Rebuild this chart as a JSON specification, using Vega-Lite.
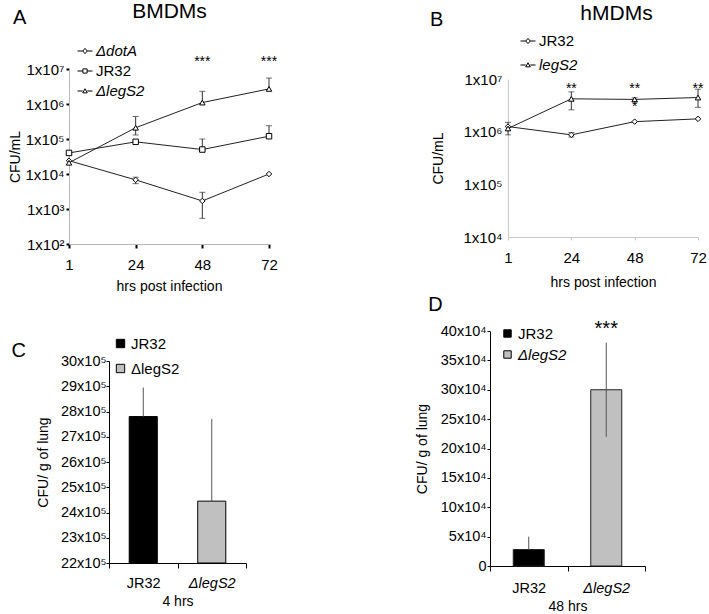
{
  "$schema": "https://vega.github.io/schema/vega-lite/v6.json",
  "padding": {"left": 8, "top": 0, "right": 0, "bottom": 0},
  "background": "white",
  "config": {
    "font": "Liberation Sans",
    "view": {"stroke": null},
    "axis": {"labelFontSize": 15, "titleFontSize": 14, "titleFontWeight": "normal", "labelColor": "black", "titleColor": "black", "grid": false, "labelFont": "Liberation Sans", "titleFont": "Liberation Sans", "labelOverlap": false},
    "legend": {"labelFontSize": 15, "labelColor": "black", "labelFont": "Liberation Sans", "padding": 0},
    "title": {"fontSize": 20, "fontWeight": "normal", "font": "Liberation Sans", "color": "black", "anchor": "start", "offset": 0}
  },
  "datasets": {
    "lineA": [
      {"time": 1, "strain": "ΔdotA", "cfu": 24000, "lo": 24000, "hi": 24000},
      {"time": 24, "strain": "ΔdotA", "cfu": 6800, "lo": 5300, "hi": 8100},
      {"time": 48, "strain": "ΔdotA", "cfu": 1700, "lo": 540, "hi": 3000},
      {"time": 72, "strain": "ΔdotA", "cfu": 10000, "lo": 10000, "hi": 10000},
      {"time": 1, "strain": "JR32", "cfu": 40000, "lo": 40000, "hi": 40000},
      {"time": 24, "strain": "JR32", "cfu": 83000, "lo": 83000, "hi": 83000},
      {"time": 48, "strain": "JR32", "cfu": 50000, "lo": 50000, "hi": 100000},
      {"time": 72, "strain": "JR32", "cfu": 120000, "lo": 120000, "hi": 240000},
      {"time": 1, "strain": "ΔlegS2", "cfu": 21000, "lo": 21000, "hi": 21000},
      {"time": 24, "strain": "ΔlegS2", "cfu": 210000, "lo": 130000, "hi": 440000},
      {"time": 48, "strain": "ΔlegS2", "cfu": 1100000, "lo": 1100000, "hi": 2300000},
      {"time": 72, "strain": "ΔlegS2", "cfu": 2700000, "lo": 2700000, "hi": 5500000}
    ],
    "sigA": [
      {"time": 48, "y": 16000000, "label": "***"},
      {"time": 72, "y": 16000000, "label": "***"}
    ],
    "lineB": [
      {"time": 1, "strain": "JR32", "cfu": 1250000, "lo": 1250000, "hi": 1250000},
      {"time": 24, "strain": "JR32", "cfu": 870000, "lo": 790000, "hi": 960000},
      {"time": 48, "strain": "JR32", "cfu": 1550000, "lo": 1550000, "hi": 1550000},
      {"time": 72, "strain": "JR32", "cfu": 1750000, "lo": 1750000, "hi": 1750000},
      {"time": 1, "strain": "legS2", "cfu": 1150000, "lo": 870000, "hi": 1500000},
      {"time": 24, "strain": "legS2", "cfu": 4200000, "lo": 2600000, "hi": 5700000},
      {"time": 48, "strain": "legS2", "cfu": 4100000, "lo": 3700000, "hi": 4400000},
      {"time": 72, "strain": "legS2", "cfu": 4450000, "lo": 2900000, "hi": 6400000}
    ],
    "sigB": [
      {"time": 24, "y": 6400000, "label": "**"},
      {"time": 48, "y": 6400000, "label": "**"},
      {"time": 72, "y": 6400000, "label": "**"},
      {"time": 48, "y": 2900000, "label": "*"}
    ],
    "barC": [
      {"strain": "JR32", "cfu": 2780000, "hi": 2895000},
      {"strain": "ΔlegS2", "cfu": 2445000, "hi": 2770000}
    ],
    "barD": [
      {"strain": "JR32", "cfu": 28000, "lo": 28000, "hi": 50000},
      {"strain": "ΔlegS2", "cfu": 300000, "lo": 220000, "hi": 380000}
    ],
    "sigD": [
      {"strain": "ΔlegS2", "y": 403000, "label": "***"}
    ]
  },
  "columns": 2,
  "align": "each",
  "spacing": {"row": 2, "column": 137},
  "resolve": {"scale": {"color": "independent", "shape": "independent"}, "legend": {"color": "independent", "shape": "independent"}},
  "concat": [
    {
      "title": {"text": "A", "dx": 5, "dy": 32},
      "width": 200,
      "height": 175,
      "resolve": {"scale": {"shape": "independent"}, "legend": {"shape": "independent"}},
      "layer": [
        {
          "data": {"name": "lineA"},
          "mark": {"type": "rule", "color": "#333", "strokeWidth": 1},
          "encoding": {
            "x": {"field": "time", "type": "ordinal", "sort": [1, 24, 48, 72], "scale": {"type": "point", "padding": 0},
              "axis": {"orient": "bottom", "title": "hrs post infection", "labelAngle": 0, "domainColor": "#b8b8b8", "tickColor": "black", "tickWidth": 2, "tickSize": 4, "labelPadding": 9, "titlePadding": 7}},
            "y": {"field": "lo", "type": "quantitative", "title": "CFU/mL", "scale": {"type": "log", "domain": [100, 10000000], "nice": false},
              "axis": {"values": [100, 1000, 10000, 100000, 1000000, 10000000], "labelExpr": "'1x10' + ['⁰','¹','²','³','⁴','⁵','⁶','⁷'][round(log(datum.value)/LN10)]", "labelOverlap": false, "domainColor": "#b8b8b8", "tickColor": "black", "tickWidth": 2, "tickSize": 3, "labelPadding": 2, "titlePadding": 3}},
            "y2": {"field": "hi"}
          }
        },
        {
          "data": {"name": "lineA"},
          "transform": [{"filter": "datum.hi > datum.cfu"}],
          "mark": {"type": "tick", "orient": "horizontal", "color": "#333", "size": 6, "thickness": 1},
          "encoding": {"x": {"field": "time", "type": "ordinal", "axis": null}, "y": {"field": "hi", "type": "quantitative", "title": "CFU/mL"}}
        },
        {
          "data": {"name": "lineA"},
          "transform": [{"filter": "datum.lo < datum.cfu"}],
          "mark": {"type": "tick", "orient": "horizontal", "color": "#333", "size": 6, "thickness": 1},
          "encoding": {"x": {"field": "time", "type": "ordinal", "axis": null}, "y": {"field": "lo", "type": "quantitative", "title": "CFU/mL"}}
        },
        {
          "data": {"name": "lineA"},
          "mark": {"type": "line", "color": "#222", "strokeWidth": 1},
          "encoding": {"x": {"field": "time", "type": "ordinal", "axis": null}, "y": {"field": "cfu", "type": "quantitative", "title": "CFU/mL"}, "detail": {"field": "strain"}}
        },
        {
          "data": {"name": "lineA"},
          "mark": {"type": "point", "filled": true, "fill": "white", "stroke": "black", "strokeWidth": 1, "size": 30, "opacity": 1},
          "encoding": {
            "x": {"field": "time", "type": "ordinal", "axis": null},
            "y": {"field": "cfu", "type": "quantitative", "title": "CFU/mL"},
            "shape": {"field": "strain", "type": "nominal", "scale": {"domain": ["ΔdotA", "JR32", "ΔlegS2"], "range": ["diamond", "square", "triangle-up"]}, "legend": null}
          }
        },
        {
          "data": {"name": "sigA"},
          "mark": {"type": "text", "fontSize": 14, "color": "black"},
          "encoding": {"x": {"field": "time", "type": "ordinal", "axis": null}, "y": {"field": "y", "type": "quantitative", "title": "CFU/mL"}, "text": {"field": "label"}}
        },
        {
          "data": {"name": "lineA"},
          "transform": [{"filter": "datum.time < 0"}],
          "mark": {"type": "point", "filled": false, "color": "black", "strokeWidth": 1, "opacity": 1},
          "encoding": {
            "x": {"field": "time", "type": "ordinal", "axis": {"orient": "top", "title": "BMDMs", "titleFontSize": 21, "labels": false, "ticks": false, "domain": false, "titlePadding": 48}},
            "shape": {"field": "strain", "type": "nominal", "scale": {"domain": ["ΔdotA", "JR32", "ΔlegS2"], "range": ["M-1,0H-0.3M0.3,0H1M-0.3,0L0,-0.35L0.3,0L0,0.35Z", "M-1,0H-0.28M0.28,0H1M-0.28,-0.28H0.28V0.28H-0.28Z", "M-1,0H-0.3M0.3,0H1M-0.3,0.25L0,-0.3L0.3,0.25Z"]},
              "legend": {"title": null, "orient": "none", "legendX": 8, "legendY": -26, "symbolSize": 225, "symbolStrokeColor": "black", "symbolStrokeWidth": 1, "symbolOpacity": 1, "rowPadding": 4, "labelOffset": 3,
                "labelFontStyle": {"expr": "datum.value == 'JR32' ? 'normal' : 'italic'"},
                "encode": {"symbols": {"update": {"stroke": {"value": "black"}, "strokeWidth": {"value": 1}, "opacity": {"value": 1}}}}}}
          }
        }
      ]
    },
    {
      "title": {"text": "B", "dx": -1, "dy": 32},
      "width": 208,
      "height": 168,
      "resolve": {"scale": {"shape": "independent"}, "legend": {"shape": "independent"}},
      "layer": [
        {
          "data": {"name": "lineB"},
          "mark": {"type": "rule", "color": "#333", "strokeWidth": 1},
          "encoding": {
            "x": {"field": "time", "type": "ordinal", "sort": [1, 24, 48, 72], "scale": {"type": "point", "padding": 0, "range": [18, 208]},
              "axis": {"orient": "bottom", "title": "hrs post infection", "labelAngle": 0, "domainColor": "#c8c8c8", "tickColor": "#c8c8c8", "tickSize": 3, "labelPadding": 10, "titlePadding": 10}},
            "y": {"field": "lo", "type": "quantitative", "title": "CFU/mL", "scale": {"type": "log", "domain": [10000, 10000000], "nice": false, "range": [168, 10]},
              "axis": {"values": [10000, 100000, 1000000, 10000000], "labelExpr": "'1x10' + ['⁰','¹','²','³','⁴','⁵','⁶','⁷'][round(log(datum.value)/LN10)]", "labelOverlap": false, "offset": -18, "domainColor": "#c8c8c8", "ticks": false, "labelPadding": 6, "titlePadding": 18}},
            "y2": {"field": "hi"}
          }
        },
        {
          "data": {"name": "lineB"},
          "transform": [{"filter": "datum.hi > datum.cfu"}],
          "mark": {"type": "tick", "orient": "horizontal", "color": "#333", "size": 6, "thickness": 1},
          "encoding": {"x": {"field": "time", "type": "ordinal", "axis": null}, "y": {"field": "hi", "type": "quantitative", "title": "CFU/mL"}}
        },
        {
          "data": {"name": "lineB"},
          "transform": [{"filter": "datum.lo < datum.cfu"}],
          "mark": {"type": "tick", "orient": "horizontal", "color": "#333", "size": 6, "thickness": 1},
          "encoding": {"x": {"field": "time", "type": "ordinal", "axis": null}, "y": {"field": "lo", "type": "quantitative", "title": "CFU/mL"}}
        },
        {
          "data": {"name": "lineB"},
          "mark": {"type": "line", "color": "#222", "strokeWidth": 1},
          "encoding": {"x": {"field": "time", "type": "ordinal", "axis": null}, "y": {"field": "cfu", "type": "quantitative", "title": "CFU/mL"}, "detail": {"field": "strain"}}
        },
        {
          "data": {"name": "lineB"},
          "mark": {"type": "point", "filled": true, "fill": "white", "stroke": "black", "strokeWidth": 1, "size": 30, "opacity": 1},
          "encoding": {
            "x": {"field": "time", "type": "ordinal", "axis": null},
            "y": {"field": "cfu", "type": "quantitative", "title": "CFU/mL"},
            "shape": {"field": "strain", "type": "nominal", "scale": {"domain": ["JR32", "legS2"], "range": ["diamond", "triangle-up"]}, "legend": null}
          }
        },
        {
          "data": {"name": "sigB"},
          "mark": {"type": "text", "fontSize": 14, "color": "black"},
          "encoding": {"x": {"field": "time", "type": "ordinal", "axis": null}, "y": {"field": "y", "type": "quantitative", "title": "CFU/mL"}, "text": {"field": "label"}}
        },
        {
          "data": {"name": "lineB"},
          "transform": [{"filter": "datum.time < 0"}],
          "mark": {"type": "point", "filled": false, "color": "black", "strokeWidth": 1, "opacity": 1},
          "encoding": {
            "x": {"field": "time", "type": "ordinal", "axis": {"orient": "top", "title": "hMDMs", "titleFontSize": 21, "labels": false, "ticks": false, "domain": false, "titlePadding": 46, "titleX": 126}},
            "shape": {"field": "strain", "type": "nominal", "scale": {"domain": ["JR32", "legS2"], "range": ["M-1,0H-0.3M0.3,0H1M-0.3,0L0,-0.35L0.3,0L0,0.35Z", "M-1,0H-0.3M0.3,0H1M-0.3,0.25L0,-0.3L0.3,0.25Z"]},
              "legend": {"title": null, "orient": "none", "legendX": 30, "legendY": -36, "symbolSize": 225, "symbolStrokeColor": "black", "symbolStrokeWidth": 1, "symbolOpacity": 1, "rowPadding": 8, "labelOffset": 3,
                "labelFontStyle": {"expr": "datum.value == 'JR32' ? 'normal' : 'italic'"},
                "encode": {"symbols": {"update": {"stroke": {"value": "black"}, "strokeWidth": {"value": 1}, "opacity": {"value": 1}}}}}}
          }
        }
      ]
    },
    {
      "title": {"text": "C", "dx": -25, "dy": 34},
      "width": 177,
      "height": 232,
      "encoding": {
        "x": {"field": "strain", "type": "nominal", "sort": ["JR32", "ΔlegS2"], "scale": {"paddingInner": 0, "paddingOuter": 0, "range": [40, 177]},
          "axis": {"title": "4 hrs", "labelAngle": 0, "labelFontSize": 14.5, "domainColor": "black", "tickColor": "black", "tickBand": "extent", "tickSize": 5, "labelPadding": 8, "titlePadding": 5,
            "labelFontStyle": {"condition": {"test": "datum.value == 'JR32'", "value": "normal"}, "value": "italic"}}}
      },
      "layer": [
        {
          "data": {"name": "barC"},
          "mark": {"type": "bar", "width": {"band": 0.41}, "stroke": "black", "strokeWidth": 1},
          "encoding": {
            "y": {"field": "cfu", "type": "quantitative", "title": "CFU/ g of lung", "scale": {"domain": [2200000, 3000000], "zero": false, "nice": false, "range": [232, 30]},
              "axis": {"values": [2200000, 2300000, 2400000, 2500000, 2600000, 2700000, 2800000, 2900000, 3000000], "tickCount": 9, "labelExpr": "round(datum.value/100000) + 'x10⁵'", "labelOverlap": false, "labelFontSize": 14.5, "offset": -40, "domainColor": "black", "tickColor": "black", "tickSize": 3, "labelPadding": 0, "titlePadding": 10}},
            "y2": {"datum": 2200000},
            "color": {"field": "strain", "type": "nominal", "scale": {"domain": ["JR32", "ΔlegS2"], "range": ["black", "#c0c0c0"]},
              "legend": {"title": null, "orient": "none", "legendX": 44, "legendY": 5, "symbolType": "square", "symbolSize": 70, "symbolStrokeColor": "black", "symbolStrokeWidth": 1, "rowPadding": 9, "labelOffset": 3}}
          }
        },
        {
          "data": {"name": "barC"},
          "mark": {"type": "rule", "color": "#555", "strokeWidth": 1},
          "encoding": {"y": {"field": "cfu", "type": "quantitative", "title": "CFU/ g of lung", "axis": {"values": [2200000, 2300000, 2400000, 2500000, 2600000, 2700000, 2800000, 2900000, 3000000], "tickCount": 9, "labelOverlap": false}}, "y2": {"field": "hi"}}
        }
      ]
    },
    {
      "title": {"text": "D", "dx": 13, "offset": 4},
      "width": 155,
      "height": 235,
      "encoding": {
        "x": {"field": "strain", "type": "nominal", "sort": ["JR32", "ΔlegS2"], "scale": {"paddingInner": 0, "paddingOuter": 0},
          "axis": {"title": "48 hrs", "labelAngle": 0, "labelFontSize": 14.5, "domainColor": "black", "tickColor": "black", "tickBand": "extent", "tickSize": 5, "labelPadding": 10, "titlePadding": 5,
            "labelFontStyle": {"condition": {"test": "datum.value == 'JR32'", "value": "normal"}, "value": "italic"}}}
      },
      "layer": [
        {
          "data": {"name": "barD"},
          "mark": {"type": "bar", "width": {"band": 0.4}, "stroke": "#222", "strokeWidth": 1},
          "encoding": {
            "y": {"field": "cfu", "type": "quantitative", "title": "CFU/ g of lung", "scale": {"domain": [0, 400000], "nice": false},
              "axis": {"values": [0, 50000, 100000, 150000, 200000, 250000, 300000, 350000, 400000], "tickCount": 9, "labelExpr": "datum.value == 0 ? '0' : round(datum.value/10000) + 'x10⁴'", "labelOverlap": false, "labelFontSize": 14.5, "domainColor": "black", "tickColor": "black", "tickSize": 3, "labelPadding": 1, "titlePadding": 11}},
            "color": {"field": "strain", "type": "nominal", "scale": {"domain": ["JR32", "ΔlegS2"], "range": ["black", "#c0c0c0"]},
              "legend": {"title": null, "orient": "none", "legendX": 10, "legendY": -5, "symbolType": "square", "symbolSize": 55, "symbolStrokeColor": "black", "symbolStrokeWidth": 1, "rowPadding": 5, "labelOffset": 3,
                "labelFontStyle": {"expr": "datum.value == 'JR32' ? 'normal' : 'italic'"}}}
          }
        },
        {
          "data": {"name": "barD"},
          "mark": {"type": "rule", "color": "#555", "strokeWidth": 1},
          "encoding": {"y": {"field": "lo", "type": "quantitative", "title": "CFU/ g of lung", "axis": {"values": [0, 50000, 100000, 150000, 200000, 250000, 300000, 350000, 400000], "tickCount": 9, "labelOverlap": false}}, "y2": {"field": "hi"}}
        },
        {
          "data": {"name": "sigD"},
          "mark": {"type": "text", "fontSize": 20, "color": "black"},
          "encoding": {"y": {"field": "y", "type": "quantitative", "title": "CFU/ g of lung", "axis": {"values": [0, 50000, 100000, 150000, 200000, 250000, 300000, 350000, 400000], "tickCount": 9, "labelOverlap": false}}, "text": {"field": "label"}}
        }
      ]
    }
  ]
}
